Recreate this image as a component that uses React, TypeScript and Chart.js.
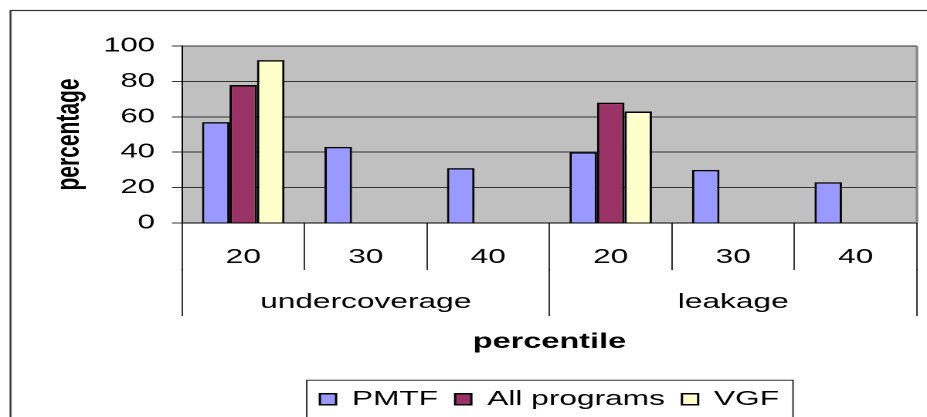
import { useEffect, useRef } from 'react';
import { Chart, registerables } from 'chart.js';

Chart.register(...registerables);

// ---- data ----
const percentileLabels = ['20', '30', '40', '20', '30', '40'];
const groupLabels = ['undercoverage', 'leakage'];
const seriesNames = ['PMTF', 'All programs', 'VGF'];
const pmtfValues = [57, 43, 31, 40, 30, 23];
const allProgramsValues = [78, null, null, 68, null, null];
const vgfValues = [92, null, null, 63, null, null];
const seriesColors = ['#9999FF', '#993366', '#FFFFCC'];
const yTitle = 'percentage';
const xTitle = 'percentile';
const yMin = 0;
const yMax = 100;
const yStep = 20;

// ---- geometry of the (horizontally stretched) drawing ----
const INNER_W = 600;
const INNER_H = 425;
const VIEW_W = 927;
const VIEW_H = 417;

const FONT = "'Liberation Sans', Arial, sans-serif";

const decorations = {
  id: 'decorations',
  beforeDraw(chart: any) {
    const { ctx, chartArea: a } = chart;
    ctx.save();
    ctx.fillStyle = '#C0C0C0';
    ctx.fillRect(a.left, a.top, a.right - a.left, a.bottom - a.top);
    ctx.restore();
  },
  afterDraw(chart: any) {
    const { ctx, chartArea: a } = chart;
    ctx.save();
    // outer chart frame (only top/left visible in the crop)
    ctx.strokeStyle = '#333';
    ctx.lineWidth = 1.2;
    ctx.strokeRect(6.8, 10.5, chart.width + 60, chart.height + 60);
    // plot area right border
    ctx.strokeStyle = '#808080';
    ctx.lineWidth = 1.5;
    ctx.beginPath();
    ctx.moveTo(a.right, a.top);
    ctx.lineTo(a.right, a.bottom);
    ctx.stroke();
    // legend frame
    const hb = chart.legend && chart.legend.legendHitBoxes;
    if (hb && hb.length) {
      const first = hb[0];
      const last = hb[hb.length - 1];
      const left = first.left - 8.5;
      const right = last.left + last.width + 9;
      const cy = first.top + first.height / 2;
      ctx.strokeStyle = '#333';
      ctx.lineWidth = 1;
      ctx.strokeRect(left, cy - 19, right - left, 38);
    }
    ctx.restore();
  },
};

export default function App() {
  const ref = useRef<HTMLCanvasElement>(null);

  useEffect(() => {
    const canvas = ref.current;
    if (!canvas) return;
    Chart.defaults.font.family = FONT;
    Chart.defaults.color = '#000';

    const seriesValues = [pmtfValues, allProgramsValues, vgfValues];
    const chart = new Chart(canvas, {
      type: 'bar',
      data: {
        labels: percentileLabels,
        datasets: seriesNames.map((name, i) => ({
          label: name,
          data: seriesValues[i],
          backgroundColor: seriesColors[i],
          borderColor: '#000',
          borderWidth: 1.5,
          categoryPercentage: 0.673,
          barPercentage: 1,
          xAxisID: 'x',
          yAxisID: 'y',
        })),
      },
      options: {
        responsive: false,
        animation: false,
        devicePixelRatio: 2,
        events: [],
        layout: { padding: { left: 20, right: 6.5, top: 46, bottom: 6 } },
        plugins: {
          tooltip: { enabled: false },
          legend: {
            position: 'bottom',
            fullSize: false,
            maxHeight: 41,
            labels: {
              boxWidth: 10.5,
              boxHeight: 11,
              padding: 11,
              color: '#000',
              font: { size: 20.5, family: FONT },
            },
          },
        },
        scales: {
          x: {
            type: 'category',
            position: 'bottom',
            weight: 0,
            offset: true,
            grid: {
              offset: true,
              drawOnChartArea: false,
              drawTicks: true,
              tickLength: 47,
              color: '#000',
              lineWidth: 0.8,
            },
            border: { display: true, color: '#000', width: 1 },
            ticks: {
              padding: -25,
              autoSkip: false,
              maxRotation: 0,
              color: '#000',
              font: { size: 20.5, family: FONT },
            },
            afterFit(s: any) {
              s.height = 46;
            },
          },
          x2: {
            type: 'category',
            position: 'bottom',
            weight: 1,
            labels: groupLabels,
            offset: true,
            grid: {
              offset: true,
              drawOnChartArea: false,
              drawTicks: true,
              tickLength: 47,
              color: '#000',
              lineWidth: 0.8,
            },
            border: { display: false },
            ticks: {
              padding: -26,
              autoSkip: false,
              maxRotation: 0,
              color: '#000',
              font: { size: 20.5, family: FONT },
            },
            title: {
              display: true,
              text: xTitle,
              color: '#000',
              font: { size: 21, weight: 'bold', family: FONT },
              padding: { top: 15.4, bottom: 23.4 },
            },
            afterFit(s: any) {
              s.height = 109;
            },
          },
          y: {
            min: yMin,
            max: yMax,
            ticks: {
              stepSize: yStep,
              padding: 11,
              color: '#000',
              font: { size: 20, family: FONT },
            },
            grid: { color: '#333', lineWidth: 1, tickLength: 6.5 },
            border: { color: '#000', width: 1 },
            title: {
              display: true,
              text: yTitle,
              color: '#000',
              font: { size: 21, weight: 'bold', family: FONT },
              padding: { top: 12.4, bottom: 0 },
            },
            afterFit(s: any) {
              s.width = 97.8;
            },
          },
        },
      } as any,
      plugins: [decorations],
    });
    return () => chart.destroy();
  }, []);

  return (
    <div
      style={{
        position: 'fixed',
        left: 0,
        top: 0,
        width: VIEW_W,
        height: VIEW_H,
        overflow: 'hidden',
        background: '#fff',
      }}
    >
      <canvas
        ref={ref}
        width={INNER_W}
        height={INNER_H}
        style={{ width: `${VIEW_W}px`, height: `${INNER_H}px`, display: 'block' }}
      />
    </div>
  );
}
